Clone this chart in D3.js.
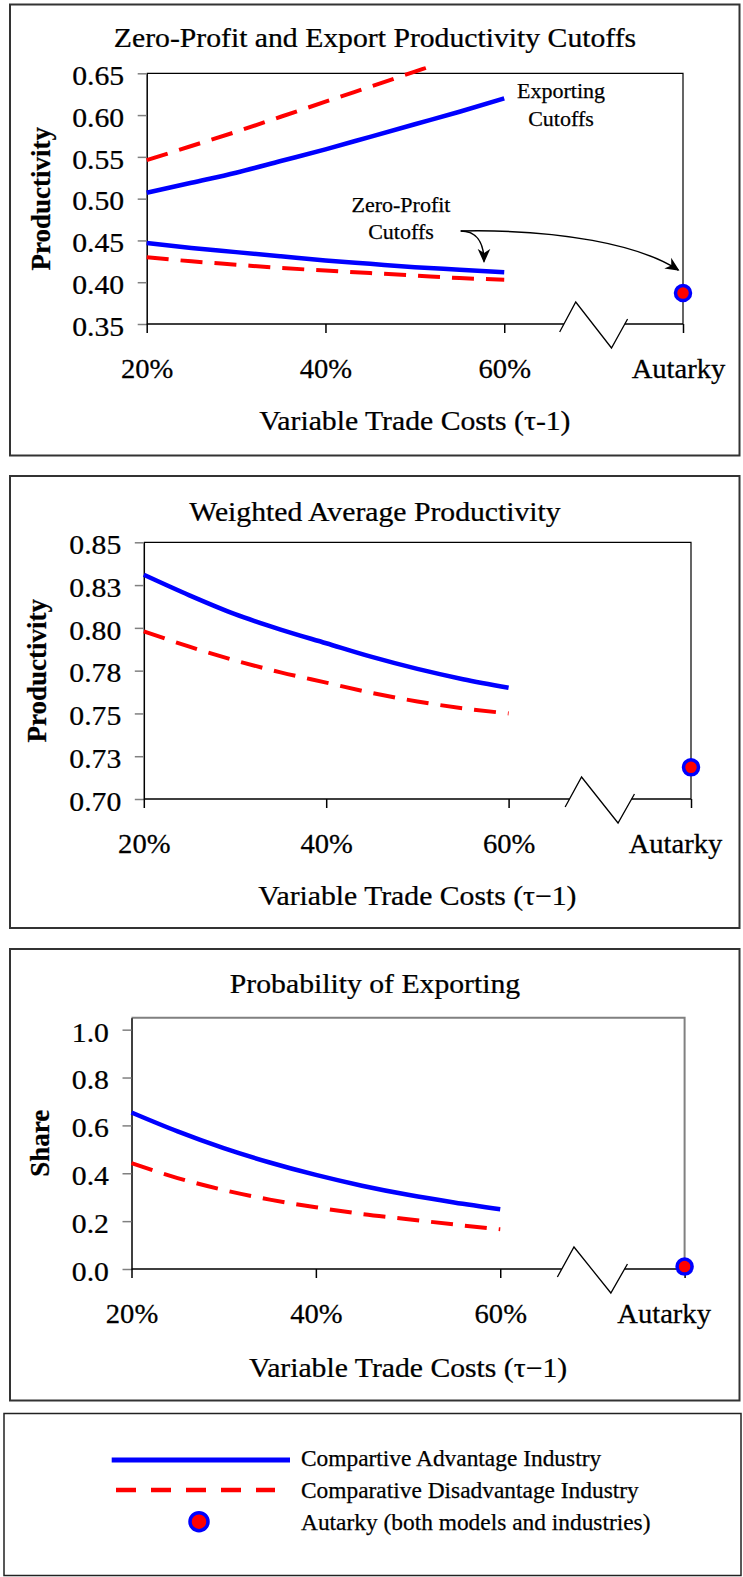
<!DOCTYPE html>
<html>
<head>
<meta charset="utf-8">
<script src="https://cdn.jsdelivr.net/npm/d3@7"></script>
<style>
  body { margin: 0; background: #fff; }
  svg { display: block; font-family: "Liberation Serif", "Times New Roman", serif; }
  svg text { stroke: #000; stroke-width: 0.25px; }
</style>
</head>
<body>
<div id="chart-area"></div>
<script>
// trade costs in %, autarky sits at 80 on the far side of the axis break
var tradeCosts = [20, 25, 30, 35, 40, 45, 50, 55, 60];
var xTickValues = [20, 40, 60, 80];
var xTickLabels = ["20%", "40%", "60%", "Autarky"];
var autarkyX = 80;
var breakX = [66.2, 68, 72, 73.8];

// panel 1 - cutoffs
var exportCutAdv = [0.507, 0.519, 0.531, 0.545, 0.559, 0.574, 0.589, 0.604, 0.620];
var exportCutDis = [0.546, 0.563, 0.580, 0.598, 0.616, 0.634, 0.652, 0.670, 0.689];
var zeroCutAdv = [0.447, 0.441, 0.436, 0.431, 0.426, 0.422, 0.418, 0.415, 0.412];
var zeroCutDis = [0.430, 0.425, 0.421, 0.417, 0.414, 0.411, 0.408, 0.405, 0.403];
var cutoffAutarky = 0.387;
var cutoffTicks = [0.35, 0.40, 0.45, 0.50, 0.55, 0.60, 0.65];
var cutoffTickLabels = ["0.35", "0.40", "0.45", "0.50", "0.55", "0.60", "0.65"];

// panel 2 - weighted average productivity
var avgProdAdv = [0.831, 0.819, 0.808, 0.799, 0.791, 0.783, 0.776, 0.770, 0.765];
var avgProdDis = [0.798, 0.789, 0.781, 0.774, 0.768, 0.762, 0.757, 0.753, 0.750];
var avgProdAutarky = 0.7185;
var avgProdTicks = [0.70, 0.725, 0.75, 0.775, 0.80, 0.825, 0.85];
var avgProdTickLabels = ["0.70", "0.73", "0.75", "0.78", "0.80", "0.83", "0.85"];

// panel 3 - probability of exporting
var probExportAdv = [0.654, 0.575, 0.505, 0.445, 0.393, 0.348, 0.310, 0.278, 0.250];
var probExportDis = [0.442, 0.380, 0.330, 0.290, 0.258, 0.230, 0.208, 0.186, 0.166];
var probExportAutarky = 0.01;
var shareTicks = [0, 0.2, 0.4, 0.6, 0.8, 1.0];
var shareTickLabels = ["0.0", "0.2", "0.4", "0.6", "0.8", "1.0"];

var legendLabels = ["Compartive Advantage Industry", "Comparative Disadvantage Industry", "Autarky (both models and industries)"];

var blue = "#0000ff";
var red = "#ff0000";

var width = 743;
var height = 1577;

var svg = d3.select("#chart-area")
  .append("svg")
  .attr("width", width)
  .attr("height", height);

var defs = svg.append("defs");
defs.append("marker")
  .attr("id", "arrow")
  .attr("viewBox", "0 0 10 10")
  .attr("refX", 9)
  .attr("refY", 5)
  .attr("markerUnits", "userSpaceOnUse")
  .attr("markerWidth", 14)
  .attr("markerHeight", 14)
  .attr("orient", "auto")
  .append("path")
  .attr("d", "M0,0.5 L10,5 L0,9.5 L3,5 z")
  .attr("fill", "#000");

var panels = [
  {
    title: "Zero-Profit and Export Productivity Cutoffs", titleY: 47.3,
    boxTop: 4.5, boxHeight: 451,
    left: 146.7, right: 683, top: 73.3, bottom: 324,
    yDomain: [0.35, 0.65], ticks: cutoffTicks, tickLabels: cutoffTickLabels,
    yTitle: "Productivity", yTitleX: 50,
    xTitle: "Variable Trade Costs (\u03c4-1)", xTitleY: 430,
    frame: "#000", frameWidth: 1.2, autarkyShift: -5,
    series: [
      { values: exportCutDis, color: red, dashed: true },
      { values: exportCutAdv, color: blue },
      { values: zeroCutDis, color: red, dashed: true },
      { values: zeroCutAdv, color: blue }
    ],
    autarky: cutoffAutarky
  },
  {
    title: "Weighted Average Productivity", titleY: 520.7,
    boxTop: 476, boxHeight: 452,
    left: 143.8, right: 691, top: 542.3, bottom: 799,
    yDomain: [0.70, 0.85], ticks: avgProdTicks, tickLabels: avgProdTickLabels,
    yTitle: "Productivity", yTitleX: 46.3,
    xTitle: "Variable Trade Costs (\u03c4\u22121)", xTitleY: 905,
    frame: "#000", frameWidth: 1.2, autarkyShift: -16,
    series: [
      { values: avgProdDis, color: red, dashed: true },
      { values: avgProdAdv, color: blue }
    ],
    autarky: avgProdAutarky
  },
  {
    title: "Probability of Exporting", titleY: 993.3,
    boxTop: 949, boxHeight: 451.5,
    left: 131.5, right: 684.6, top: 1017.7, bottom: 1269,
    yDomain: [0, 1.05], ticks: shareTicks, tickLabels: shareTickLabels,
    yTitle: "Share", yTitleX: 48.6,
    xTitle: "Variable Trade Costs (\u03c4\u22121)", xTitleY: 1376.7,
    frame: "#808080", frameWidth: 2, autarkyShift: -21,
    series: [
      { values: probExportDis, color: red, dashed: true },
      { values: probExportAdv, color: blue }
    ],
    autarky: probExportAutarky
  }
];

panels.forEach(function(p, k) {
  var x = d3.scaleLinear().domain([20, autarkyX]).range([p.left, p.right]);
  var y = d3.scaleLinear().domain(p.yDomain).range([p.bottom, p.top]);

  svg.append("rect")
    .attr("x", 10).attr("y", p.boxTop)
    .attr("width", 729.5).attr("height", p.boxHeight)
    .attr("fill", "none").attr("stroke", "#333").attr("stroke-width", 2);

  svg.append("text")
    .attr("transform", "translate(375," + p.titleY + ") scale(1.1,1)")
    .attr("text-anchor", "middle")
    .attr("font-size", 27)
    .text(p.title);

  // top and right border of the plot area
  svg.append("path")
    .attr("d", "M" + p.left + "," + p.top + "H" + p.right + "V" + p.bottom)
    .attr("fill", "none").attr("stroke", p.frame).attr("stroke-width", p.frameWidth);

  var yAxis = d3.axisLeft(y)
    .tickValues(p.ticks)
    .tickFormat((d, i) => p.tickLabels[i])
    .tickSize(9)
    .tickSizeOuter(0);
  var gy = svg.append("g")
    .attr("transform", "translate(" + p.left + ",0)")
    .call(yAxis)
    .attr("font-family", null)
    .attr("font-size", 27);
  gy.select(".domain").attr("stroke", "#000").attr("stroke-width", 1.5);
  gy.selectAll(".tick line").attr("stroke", "#808080").attr("stroke-width", 1.5);
  gy.selectAll(".tick text")
    .attr("x", -20.5).attr("dy", "0.42em")
    .attr("fill", "#000")
    .attr("transform", "scale(1.1,1)");

  var xAxis = d3.axisBottom(x)
    .tickValues(xTickValues)
    .tickFormat((d, i) => xTickLabels[i])
    .tickSize(9);
  var gx = svg.append("g")
    .attr("transform", "translate(0," + p.bottom + ")")
    .call(xAxis)
    .attr("font-family", null)
    .attr("font-size", 27);
  gx.select(".domain").remove();
  gx.selectAll(".tick line").attr("stroke", "#000").attr("stroke-width", 1.5);
  gx.selectAll(".tick text")
    .attr("y", 54).attr("dy", null)
    .attr("fill", "#000")
    .attr("transform", d => "translate(" + (d === autarkyX ? p.autarkyShift : 0) + ",0) scale(1.06,1)");

  // axis line with the zigzag break before autarky
  var breakDy = [8, -22, 24, -5];
  var bx = breakX.map(v => x(v));
  var by = breakDy.map(dy => p.bottom + dy);
  var cross1 = bx[0] + (bx[1] - bx[0]) * (by[0] - p.bottom) / (by[0] - by[1]);
  var cross2 = bx[2] + (bx[3] - bx[2]) * (by[2] - p.bottom) / (by[2] - by[3]);
  svg.append("path")
    .attr("d", "M" + p.left + "," + p.bottom + "H" + cross1 + "M" + cross2 + "," + p.bottom + "H" + p.right)
    .attr("fill", "none").attr("stroke", "#000").attr("stroke-width", 1.5);
  svg.append("path")
    .attr("d", d3.line()(bx.map((v, i) => [v, by[i]])))
    .attr("fill", "none").attr("stroke", "#000").attr("stroke-width", 1.3);

  defs.append("clipPath").attr("id", "clip" + k)
    .append("rect")
    .attr("x", p.left - 5).attr("y", p.top - 7)
    .attr("width", p.right - p.left + 10).attr("height", p.bottom - p.top + 12);

  var line = d3.line()
    .x((d, i) => x(tradeCosts[i]))
    .y(d => y(d))
    .curve(d3.curveMonotoneX);

  p.series.forEach(s => {
    svg.append("path")
      .datum(s.values)
      .attr("d", line)
      .attr("fill", "none")
      .attr("stroke", s.color)
      .attr("stroke-width", s.dashed ? 4 : 4.5)
      .attr("stroke-dasharray", s.dashed ? "22,12" : null)
      .attr("clip-path", "url(#clip" + k + ")");
  });

  svg.append("circle")
    .attr("cx", x(autarkyX))
    .attr("cy", y(p.autarky))
    .attr("r", 7.5)
    .attr("fill", red)
    .attr("stroke", blue)
    .attr("stroke-width", 3.5);

  svg.append("text")
    .attr("transform", "translate(" + p.yTitleX + "," + (p.top + p.bottom) / 2 + ") rotate(-90)")
    .attr("text-anchor", "middle")
    .attr("font-size", 27)
    .attr("font-weight", "bold")
    .text(p.yTitle);

  svg.append("text")
    .attr("transform", "translate(" + (p.left + p.right) / 2 + "," + p.xTitleY + ") scale(1.1,1)")
    .attr("text-anchor", "middle")
    .attr("font-size", 27)
    .text(p.xTitle);
});

// annotations in the first panel
var notes = [
  { lines: ["Exporting", "Cutoffs"], x: 561, y: [98.3, 126] },
  { lines: ["Zero-Profit", "Cutoffs"], x: 401, y: [211.7, 239.3] }
];
notes.forEach(n => {
  n.lines.forEach((t, i) => {
    svg.append("text")
      .attr("x", n.x).attr("y", n.y[i])
      .attr("text-anchor", "middle")
      .attr("font-size", 22)
      .text(t);
  });
});

svg.append("path")
  .attr("d", "M460.7,231 C476,231 484,242 484,261.5")
  .attr("fill", "none").attr("stroke", "#000").attr("stroke-width", 1.5)
  .attr("marker-end", "url(#arrow)");
svg.append("path")
  .attr("d", "M460.7,231 C560,229 640,245 678.3,270")
  .attr("fill", "none").attr("stroke", "#000").attr("stroke-width", 1.5)
  .attr("marker-end", "url(#arrow)");

// legend
var legend = svg.append("g");
legend.append("rect")
  .attr("x", 4).attr("y", 1413.5)
  .attr("width", 737).attr("height", 162)
  .attr("fill", "none").attr("stroke", "#222").attr("stroke-width", 1.5);

legend.append("line")
  .attr("x1", 111.7).attr("x2", 290).attr("y1", 1460).attr("y2", 1460)
  .attr("stroke", blue).attr("stroke-width", 5);
legend.append("line")
  .attr("x1", 116).attr("x2", 275).attr("y1", 1490).attr("y2", 1490)
  .attr("stroke", red).attr("stroke-width", 4.7)
  .attr("stroke-dasharray", "20,15");
legend.append("circle")
  .attr("cx", 199).attr("cy", 1521.7).attr("r", 9)
  .attr("fill", red).attr("stroke", blue).attr("stroke-width", 3.5);

var legendY = [1466.4, 1497.7, 1529.7];
legend.selectAll("text.lab")
  .data(legendLabels).enter()
  .append("text")
  .attr("class", "lab")
  .attr("x", 301)
  .attr("y", (d, i) => legendY[i])
  .attr("font-size", 23.4)
  .text(d => d);
</script>
</body>
</html>
